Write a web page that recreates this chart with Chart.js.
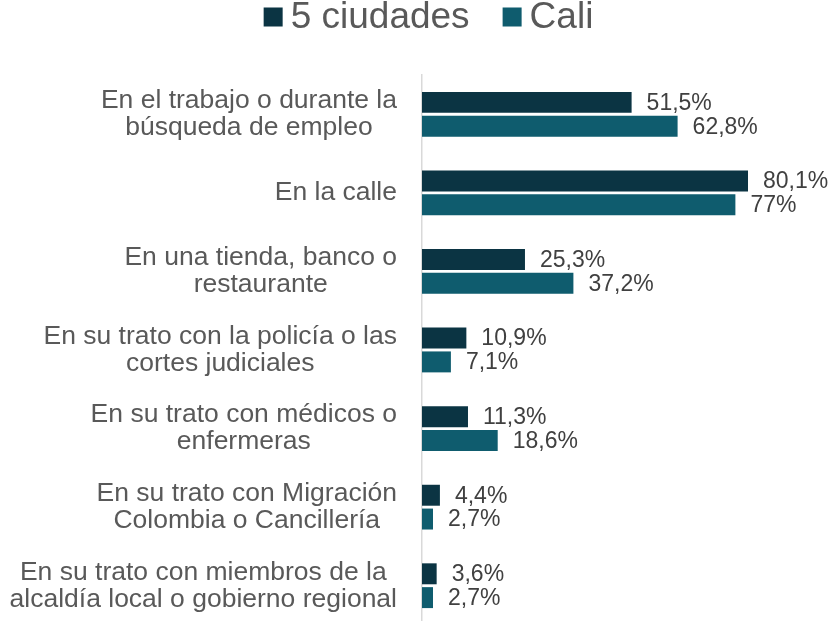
<!DOCTYPE html>
<html>
<head>
<meta charset="utf-8">
<script src="https://cdn.jsdelivr.net/npm/chart.js@4/dist/chart.umd.min.js"></script>
<style>
  html, body { margin: 0; padding: 0; background: #fff; overflow: hidden; }
</style>
</head>
<body>
<canvas id="chartjs" width="837" height="625"></canvas>
<script>
// categories (multi-line labels for the y axis)
const categories = [
  ['En el trabajo o durante la', 'búsqueda de empleo'],
  ['En la calle'],
  ['En una tienda, banco o', 'restaurante'],
  ['En su trato con la policía o las', 'cortes judiciales'],
  ['En su trato con médicos o', 'enfermeras'],
  ['En su trato con Migración', 'Colombia o Cancillería'],
  ['En su trato con miembros de la', 'alcaldía local o gobierno regional']
];

const seriesNames = ['5 ciudades', 'Cali'];
const cincoCiudades = [51.5, 80.1, 25.3, 10.9, 11.3, 4.4, 3.6];
const cali = [62.8, 77, 37.2, 7.1, 18.6, 2.7, 2.7];

const colors = ['#0b3443', '#0f5c6e'];
const FONT = '"Liberation Sans", Arial, sans-serif';

function fmtPct(v) {
  return String(v).replace('.', ',') + '%';
}

// value labels after each bar
const barLabels = {
  id: 'barLabels',
  afterDatasetsDraw(chart) {
    const ctx = chart.ctx;
    ctx.save();
    ctx.font = '23px ' + FONT;
    ctx.fillStyle = '#404040';
    ctx.textAlign = 'left';
    ctx.textBaseline = 'middle';
    chart.data.datasets.forEach((ds, i) => {
      chart.getDatasetMeta(i).data.forEach((bar, j) => {
        ctx.fillText(fmtPct(ds.data[j]), bar.x + 15, bar.y + 1);
      });
    });
    ctx.restore();
  }
};

// category labels: block right-aligned to the axis, lines centred inside it
const categoryLabels = {
  id: 'categoryLabels',
  afterDraw(chart) {
    const ctx = chart.ctx;
    const yScale = chart.scales.y;
    const right = chart.chartArea.left - 25;
    const lineH = 27;
    ctx.save();
    ctx.font = '26.5px ' + FONT;
    ctx.fillStyle = '#595959';
    ctx.textAlign = 'center';
    ctx.textBaseline = 'middle';
    chart.data.labels.forEach((lines, i) => {
      const w = Math.max(...lines.map(l => ctx.measureText(l).width));
      const cx = right - w / 2;
      const cy = yScale.getPixelForValue(i);
      const y0 = cy - (lines.length - 1) * lineH / 2;
      lines.forEach((l, k) => ctx.fillText(l, cx, y0 + k * lineH));
    });
    ctx.restore();
  }
};

// legend across the top
const topLegend = {
  id: 'topLegend',
  afterDraw(chart) {
    const ctx = chart.ctx;
    ctx.save();
    ctx.font = '37px ' + FONT;
    ctx.textBaseline = 'middle';
    const box = 19, gap = 8, spacing = 33;
    const widths = seriesNames.map(n => ctx.measureText(n).width);
    let total = 0;
    widths.forEach((w, i) => { total += box + gap + w + (i ? spacing : 0); });
    let x = chart.width / 2 + 10 - total / 2;
    const y = 17;
    seriesNames.forEach((name, i) => {
      ctx.fillStyle = colors[i];
      ctx.fillRect(x, y - box / 2, box, box);
      ctx.fillStyle = '#595959';
      ctx.fillText(name, x + box + gap, y + 1);
      x += box + gap + widths[i] + spacing;
    });
    ctx.restore();
  }
};

new Chart(document.getElementById('chartjs').getContext('2d'), {
  type: 'bar',
  data: {
    labels: categories,
    datasets: [
      { label: seriesNames[0], data: cincoCiudades, backgroundColor: colors[0] },
      { label: seriesNames[1], data: cali, backgroundColor: colors[1] }
    ]
  },
  options: {
    indexAxis: 'y',
    responsive: false,
    animation: false,
    devicePixelRatio: 1,
    categoryPercentage: 0.606,
    barPercentage: 0.88,
    layout: { padding: { top: 75, right: 8, left: 0, bottom: 0 } },
    plugins: {
      legend: { display: false },
      tooltip: { enabled: false }
    },
    scales: {
      x: {
        display: false,
        min: 0,
        max: 100
      },
      y: {
        afterFit(scale) {
          scale.width = 422;
          scale.paddingTop = 0;
          scale.paddingBottom = 0;
        },
        grid: { display: false, drawTicks: false },
        border: { display: true, color: '#d9d9d9', width: 1.5 },
        ticks: { display: false }
      }
    }
  },
  plugins: [barLabels, categoryLabels, topLegend]
});
</script>
</body>
</html>
